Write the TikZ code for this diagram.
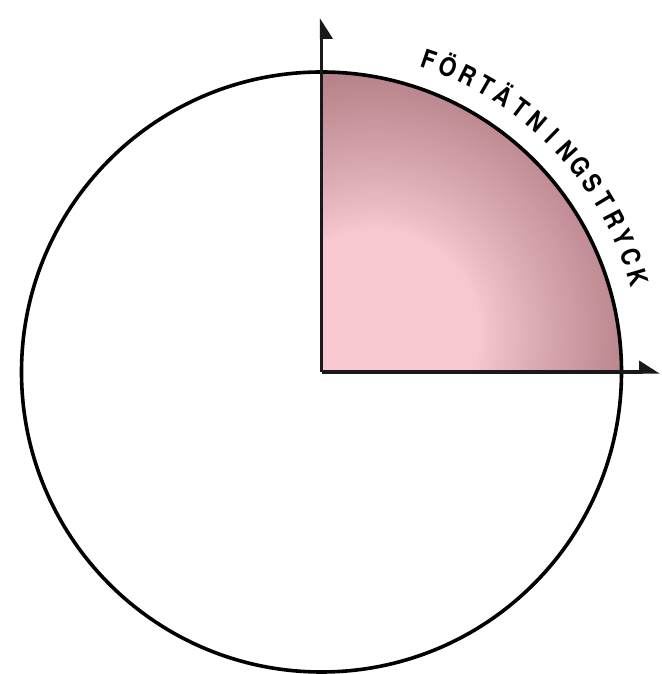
\documentclass[tikz,border=0pt]{standalone}
\usepackage{fontspec}
\usepackage{graphicx}
\newfontfamily\lblfont{TeX Gyre Heros}
\usetikzlibrary{arrows.meta}
\definecolor{pinklight}{RGB}{249,201,210}
\definecolor{pinkdark}{RGB}{180,128,136}
\tikzset{
  outline/.style={line width=3.6pt, draw=black},
  axis/.style={line width=3.4pt, draw=black!90, line cap=butt},
  letter/.style={inner sep=0pt, anchor=base},
}
\newcommand{\lblchar}[1]{\scalebox{0.86}[1]{\lblfont\bfseries\fontsize{26}{26}\selectfont #1}}
\begin{document}
\begin{tikzpicture}[x=1pt,y=1pt]
\useasboundingbox (0,0) rectangle (661,674);
\coordinate (O) at (321.5,302);
\coordinate (ytip) at (321.5,656);
\coordinate (xtip) at (660,302);
\coordinate (glow) at (375,340);
% shaded quarter
\begin{scope}
  \clip (O) -- ++(0,300) arc[start angle=90, end angle=0, radius=300] -- cycle;
  \fill[pinkdark] (O) rectangle ++(300,300);
  \foreach \r in {270,266,...,105}{
    \pgfmathsetmacro{\t}{max(0,min(100,(\r-105)/165*100))}
    \pgfmathsetmacro{\tt}{100*(\t/100)^0.85}
    \fill[pinkdark!\tt!pinklight] (glow) circle (\r);
  }
\end{scope}
% circle
\draw[outline] (O) circle (300);
% axes
\draw[axis, -{Triangle[right, length=18pt, width=22pt]}] (O) -- (ytip);
\draw[axis, -{Triangle[left, length=18pt, width=22pt]}] (O) -- (xtip);
% label along arc
\foreach \ch [count=\i from 0] in {F,Ö,R,T,Ä,T,N,I,N,G,S,T,R,Y,C,K}{
  \pgfmathsetmacro{\ang}{71-\i*3.62}
  \node[letter, rotate=\ang-90] (l\i) at ([shift={(O)}]\ang:321) {\lblchar{\ch}};
}
\end{tikzpicture}
\end{document}
